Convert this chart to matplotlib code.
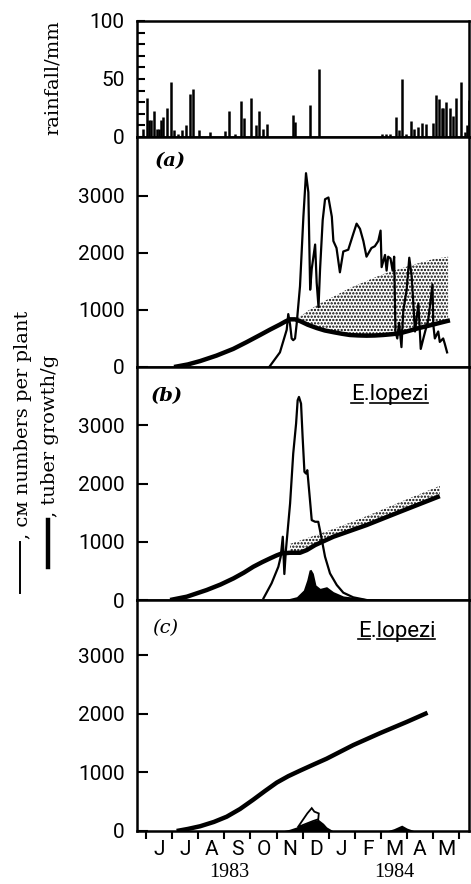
import numpy as np
import matplotlib
matplotlib.use("Agg")
import matplotlib.pyplot as plt
from matplotlib.lines import Line2D

# x positions are in months counted from 1 June 1983
months = ["J", "J", "A", "S", "O", "N", "D", "J", "F", "M", "A", "M"]

# daily rainfall (mm)
rain_x = [-0.13, 0.03, 0.11, 0.19, 0.32, 0.41, 0.49, 0.56, 0.66, 0.79, 0.96, 1.07, 1.23,
          1.37, 1.53, 1.69, 1.81, 2.03, 2.45, 3.03, 3.18, 3.41, 3.63, 3.77, 4.01, 4.21,
          4.34, 4.50, 4.62, 5.62, 5.71, 6.28, 6.63, 9.03, 9.20, 9.35, 9.58, 9.69, 9.82,
          9.96, 10.15, 10.28, 10.43, 10.56, 10.75, 11.01, 11.11, 11.24, 11.33, 11.39,
          11.49, 11.65, 11.75, 11.90, 12.07, 12.22, 12.32, 12.39]
rain_mm = [7, 34, 15, 15, 22, 7, 7, 15, 17, 25, 47, 6, 3, 6, 10, 37, 41, 6, 4, 5, 22,
           3, 31, 16, 34, 10, 22, 7, 11, 19, 13, 28, 59, 3, 3, 3, 17, 6, 50, 3, 14, 7,
           9, 12, 11, 12, 36, 33, 25, 25, 30, 25, 18, 34, 47, 4, 10, 32]

# (a) CM numbers per plant
a_cm_x = [4.72, 5.13, 5.39, 5.45, 5.52, 5.58, 5.64, 5.71, 5.77, 5.90, 6.03, 6.13, 6.22,
          6.29, 6.35, 6.48, 6.54, 6.61, 6.67, 6.77, 6.86, 6.99, 7.12, 7.18, 7.30, 7.43,
          7.56, 7.75, 7.94, 8.07, 8.20, 8.33, 8.45, 8.64, 8.77, 8.90, 8.99, 9.03, 9.16,
          9.22, 9.28, 9.37, 9.45, 9.51, 9.56, 9.63, 9.70, 9.79, 9.86, 9.99, 10.09, 10.18,
          10.31, 10.44, 10.53, 10.63, 10.82, 10.98, 11.01, 11.07, 11.20, 11.26, 11.39,
          11.45, 11.54]
a_cm = [0, 256, 652, 927, 744, 500, 470, 500, 744, 1415, 2634, 3396, 3061, 1354, 1720,
        2146, 1476, 1049, 1720, 2573, 2939, 2970, 2634, 2207, 2085, 1659, 2024, 2055,
        2329, 2512, 2421, 2207, 1933, 2085, 2116, 2207, 2390, 1750, 1963, 1689, 1933,
        1902, 1689, 1933, 622, 500, 774, 348, 988, 1354, 1915, 1598, 622, 1110, 317,
        500, 835, 1445, 744, 500, 622, 439, 500, 409, 256]
# (a) tuber growth (g)
a_tub_x = [1.07, 1.60, 2.07, 2.70, 3.34, 3.85, 4.37, 4.75, 5.13, 5.35, 5.52, 5.71, 5.90,
           6.20, 6.54, 6.85, 7.18, 7.50, 7.81, 8.13, 8.45, 8.77, 9.09, 9.41, 9.73, 10.05,
           10.37, 10.69, 11.01, 11.30, 11.58, 11.65]
a_tub = [0, 45, 104, 200, 317, 435, 561, 655, 744, 800, 835, 835, 805, 740, 683, 640,
         610, 583, 561, 553, 549, 552, 561, 574, 591, 630, 671, 708, 744, 778, 810, 817]
# (a) stippled upper edge, on the tuber x points from 5.71 on
a_dot_top = [835, 880, 985, 1079, 1160, 1232, 1310, 1384, 1448, 1506, 1570, 1628, 1676,
             1720, 1768, 1811, 1852, 1890, 1913, 1933]

# (b) E. lopezi
b_cm_x = [4.50, 4.81, 5.07, 5.16, 5.24, 5.30, 5.36, 5.52, 5.64, 5.75, 5.81, 5.86, 5.94,
          6.00, 6.07, 6.13, 6.18, 6.26, 6.35, 6.48, 6.60, 6.69, 6.86, 7.05, 7.31, 7.56,
          7.94, 8.45]
b_cm = [29, 286, 571, 743, 1086, 446, 857, 1657, 2514, 3029, 3429, 3486, 3371, 2800,
        2200, 2171, 2229, 1829, 1371, 1343, 1343, 1143, 743, 457, 257, 126, 46, 0]
b_tub_x = [0.92, 1.56, 2.32, 2.85, 3.35, 3.75, 4.11, 4.45, 4.75, 5.00, 5.20, 5.52, 5.90,
           6.16, 6.48, 7.18, 8.45, 9.73, 11.26]
b_tub = [0, 57, 171, 265, 371, 470, 571, 650, 714, 765, 800, 811, 811, 857, 943, 1086,
         1286, 1514, 1783]
b_dot_top = [965, 1020, 1060, 1110, 1220, 1440, 1680, 1960]
b_par_x = [5.26, 5.77, 6.03, 6.16, 6.25, 6.32, 6.41, 6.51, 6.67, 6.92, 7.18, 7.56, 8.45,
           10.11]
b_par = [0, 57, 171, 343, 514, 526, 457, 257, 200, 229, 143, 69, 23, 0]

# (c) E. lopezi
c_tub_x = [1.17, 1.60, 2.07, 2.60, 3.09, 3.60, 4.11, 4.55, 5.01, 5.45, 5.90, 6.40, 6.92,
           7.94, 8.97, 9.99, 10.79]
c_tub = [0, 35, 81, 155, 244, 375, 535, 680, 826, 935, 1029, 1130, 1233, 1465, 1669,
         1860, 2017]
c_par_x = [5.20, 5.50, 5.77, 6.03, 6.30, 6.60, 6.80, 6.92, 7.18]
c_par = [0, 30, 70, 110, 160, 200, 130, 70, 0]
c_par2_x = [9.22, 9.50, 9.80, 10.00, 10.31]
c_par2 = [0, 40, 100, 50, 0]
c_open_x = [5.81, 6.18, 6.35, 6.45, 6.62, 6.60, 6.40, 6.00]
c_open = [60, 300, 390, 330, 300, 200, 170, 100]

plt.rcParams["font.family"] = ["Roboto", "DejaVu Sans"]
plt.rcParams["hatch.linewidth"] = 1.1
serif = ["DejaVu Serif", "DejaVu Sans"]

W, H = 471, 884
fig = plt.figure(figsize=(W / 100, H / 100), dpi=100)
gs = fig.add_gridspec(4, 1, height_ratios=[116, 230, 233, 231], hspace=0,
                      left=137 / W, right=469 / W, top=1 - 21 / H, bottom=1 - 831 / H)
ax_r, ax_a, ax_b, ax_c = [fig.add_subplot(gs[i]) for i in range(4)]

for ax in (ax_r, ax_a, ax_b, ax_c):
    ax.set_xlim(-0.35, 12.38)
    for s in ax.spines.values():
        s.set_linewidth(1.8)
    ax.tick_params(axis="y", which="both", direction="in", width=1.5, labelsize=15, pad=9)
    ax.tick_params(axis="x", which="both", bottom=False, labelbottom=False)

# rainfall
ax_r.vlines(rain_x, 0, rain_mm, color="black", lw=1.8)
ax_r.set_ylim(0, 100)
ax_r.set_yticks([0, 50, 100])
ax_r.set_yticks(np.arange(0, 101, 10), minor=True)
ax_r.tick_params(axis="y", which="both", length=6)

ylims = {ax_a: 4030, ax_b: 4000, ax_c: 3940}
for ax in (ax_a, ax_b, ax_c):
    ax.set_ylim(0, ylims[ax])
    ax.set_yticks([0, 1000, 2000, 3000])
    ax.tick_params(axis="y", length=8)

# (a)
n = len(a_dot_top)
ax_a.fill_between(a_tub_x[-n - 1:-1], a_tub[-n - 1:-1], a_dot_top, facecolor="white",
                  edgecolor="black", hatch=".....", linewidth=0, zorder=1)
ax_a.plot(a_cm_x, a_cm, color="black", lw=1.6, zorder=2)
ax_a.plot(a_tub_x, a_tub, color="black", lw=3.2, zorder=3, solid_capstyle="butt")

# (b)
n = len(b_dot_top)
ax_b.fill_between(b_tub_x[-n:], b_tub[-n:], b_dot_top, facecolor="white",
                  edgecolor="black", hatch=".....", linewidth=0, zorder=1)
ax_b.fill_between(b_par_x, 0, b_par, color="black", lw=0, zorder=2)
ax_b.plot(b_cm_x, b_cm, color="black", lw=1.6, zorder=3)
ax_b.plot(b_tub_x, b_tub, color="black", lw=3.2, zorder=4, solid_capstyle="butt")

# (c)
ax_c.fill_between(c_par_x, 0, c_par, color="black", lw=0, zorder=2)
ax_c.fill_between(c_par2_x, 0, c_par2, color="black", lw=0, zorder=2)
ax_c.fill(c_open_x, c_open, facecolor="white", edgecolor="black", lw=1.3, zorder=3)
ax_c.plot(c_tub_x, c_tub, color="black", lw=3.2, zorder=4, solid_capstyle="butt")

ax_c.set_xticks(range(13))
ax_c.set_xticklabels([])
ax_c.set_xticks(np.arange(12) + 0.5, minor=True)
ax_c.set_xticklabels(months, minor=True)
ax_c.tick_params(axis="x", which="major", bottom=True, direction="out", length=6, width=1.5)
ax_c.tick_params(axis="x", which="minor", bottom=True, length=0, labelbottom=True,
                 pad=6.5, labelsize=15)
yr = ax_c.get_xaxis_transform()
ax_c.text(3.2, -0.14, "1983", transform=yr, ha="center", va="top",
          family="Liberation Serif", fontsize=14.5)
ax_c.text(9.5, -0.14, "1984", transform=yr, ha="center", va="top",
          family="Liberation Serif", fontsize=14.5)

# panel letters
ax_a.text(0.10, 0.896, "(a)", transform=ax_a.transAxes, ha="center", va="center",
          family=serif, style="italic", weight="bold", fontsize=14)
ax_b.text(0.09, 0.876, "(b)", transform=ax_b.transAxes, ha="center", va="center",
          family=serif, style="italic", weight="bold", fontsize=14)
ax_c.text(0.085, 0.879, "(c)", transform=ax_c.transAxes, ha="center", va="center",
          family=serif, style="italic", fontsize=14)

species = [ax_b.text(0.877, 0.858, "E.lopezi", transform=ax_b.transAxes, ha="right",
                     va="baseline", fontsize=16),
           ax_c.text(0.898, 0.84, "E.lopezi", transform=ax_c.transAxes, ha="right",
                     va="baseline", fontsize=16)]

# axis titles on the left
fig.text(58 / W, 1 - 78 / H, "rainfall/mm", rotation=90, rotation_mode="anchor",
         ha="center", va="baseline", family=serif, fontsize=14)
fig.text(28 / W, 1 - 539 / H, ", ᴄᴍ numbers per plant", rotation=90,
         rotation_mode="anchor", ha="left", va="baseline", family=serif, fontsize=14)
fig.text(55 / W, 1 - 517 / H, ", tuber growth/g", rotation=90,
         rotation_mode="anchor", ha="left", va="baseline", family=serif, fontsize=14)
fig.add_artist(Line2D([20 / W, 20 / W], [1 - 542 / H, 1 - 593 / H], color="black",
                      lw=1.4, transform=fig.transFigure))
fig.add_artist(Line2D([48 / W, 48 / W], [1 - 520 / H, 1 - 567 / H], color="black",
                      lw=3.2, transform=fig.transFigure))

# underline the species name, broken at the dot
fig.canvas.draw()
r = fig.canvas.get_renderer()
for t in species:
    bb = t.get_window_extent(r)
    tmp = fig.text(0, 0, "E", fontsize=16)
    wE = tmp.get_window_extent(r).width
    tmp.set_text("E.")
    wEd = tmp.get_window_extent(r).width
    tmp.remove()
    y = (bb.y0 + 2.5) / H
    for x0, x1 in [(bb.x0, bb.x0 + wE), (bb.x0 + wEd + 1, bb.x1)]:
        fig.add_artist(Line2D([x0 / W, x1 / W], [y, y], color="black", lw=1.2,
                              transform=fig.transFigure))

fig.savefig("out.png", dpi=100)
